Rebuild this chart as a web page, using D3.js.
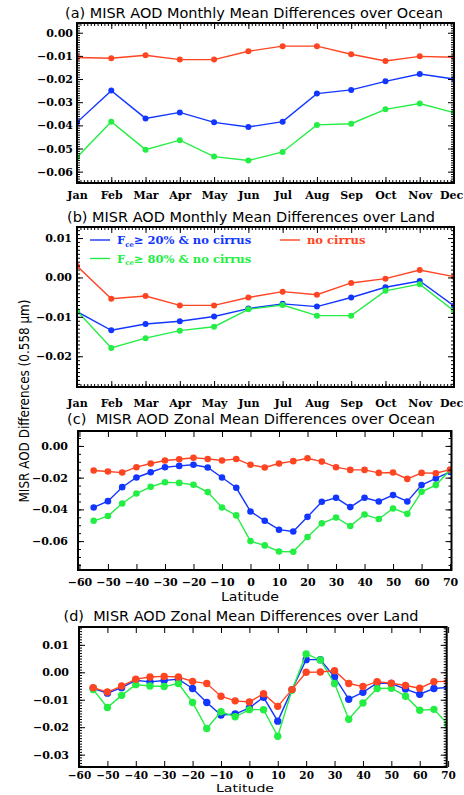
<!DOCTYPE html>
<html><head><meta charset="utf-8">
<script src="https://cdn.jsdelivr.net/npm/d3@7"></script>
<style>body{margin:0;background:#fff}svg{display:block}</style>
</head><body><svg id="c" width="464" height="795"></svg>
<script>
// ---------------- DATA ----------------
const months = ["Jan","Feb","Mar","Apr","May","Jun","Jul","Aug","Sep","Oct","Nov","Dec"];
const latitudes = [-55,-50,-45,-40,-35,-30,-25,-20,-15,-10,-5,0,5,10,15,20,25,30,35,40,45,50,55,60,65,70];
const latTicks = [-60,-50,-40,-30,-20,-10,0,10,20,30,40,50,60,70];

// (a) monthly, ocean
const oceanMonthlyFce20 = [-0.0387,-0.0250,-0.0370,-0.0344,-0.0387,-0.0407,-0.0384,-0.0263,-0.0247,-0.0210,-0.0178,-0.0200];
const oceanMonthlyFce80 = [-0.0538,-0.0384,-0.0505,-0.0464,-0.0535,-0.0552,-0.0515,-0.0398,-0.0393,-0.0331,-0.0306,-0.0345];
const oceanMonthlyNoCirrus = [-0.0107,-0.0110,-0.0097,-0.0116,-0.0116,-0.0080,-0.0058,-0.0058,-0.0093,-0.0122,-0.0102,-0.0106];
const oceanMonthlyTicks = [0,-0.01,-0.02,-0.03,-0.04,-0.05,-0.06];

// (b) monthly, land
const landMonthlyFce20 = [-0.0087,-0.0134,-0.0118,-0.0111,-0.0099,-0.0079,-0.0067,-0.0074,-0.0051,-0.0025,-0.0009,-0.0072];
const landMonthlyFce80 = [-0.0085,-0.0179,-0.0154,-0.0135,-0.0125,-0.0081,-0.0070,-0.0097,-0.0097,-0.0034,-0.0017,-0.0085];
const landMonthlyNoCirrus = [0.0029,-0.0054,-0.0047,-0.0071,-0.0071,-0.0051,-0.0036,-0.0044,-0.0014,-0.0003,0.0019,0.0002];
const landMonthlyTicks = [0.01,0,-0.01,-0.02];

// (c) zonal, ocean
const oceanZonalFce20 = [-0.0388,-0.0348,-0.0260,-0.0199,-0.0166,-0.0134,-0.0126,-0.0119,-0.0136,-0.0199,-0.0264,-0.0413,-0.0472,-0.0528,-0.0539,-0.0447,-0.0352,-0.0327,-0.0386,-0.0327,-0.0350,-0.0310,-0.0350,-0.0247,-0.0205,-0.0164];
const oceanZonalFce80 = [-0.0472,-0.0442,-0.0363,-0.0300,-0.0258,-0.0229,-0.0233,-0.0245,-0.0291,-0.0388,-0.0438,-0.0600,-0.0627,-0.0665,-0.0667,-0.0574,-0.0488,-0.0451,-0.0505,-0.0432,-0.0461,-0.0394,-0.0428,-0.0289,-0.0247,-0.0153];
const oceanZonalNoCirrus = [-0.0155,-0.0161,-0.0168,-0.0134,-0.0111,-0.0092,-0.0084,-0.0075,-0.0082,-0.0092,-0.0082,-0.0119,-0.0136,-0.0111,-0.0096,-0.0078,-0.0099,-0.0134,-0.0151,-0.0151,-0.0170,-0.0168,-0.0208,-0.0170,-0.0172,-0.0149];
const oceanZonalTicks = [0,-0.02,-0.04,-0.06];

// (d) zonal, land
const landZonalFce20 = [-0.0058,-0.0076,-0.0056,-0.0029,-0.0035,-0.0030,-0.0025,-0.0059,-0.0110,-0.0156,-0.0152,-0.0130,-0.0091,-0.0178,-0.0063,0.0046,0.0046,-0.0017,-0.0098,-0.0073,-0.0039,-0.0041,-0.0061,-0.0080,-0.0059,-0.0055];
const landZonalFce80 = [-0.0063,-0.0128,-0.0084,-0.0045,-0.0050,-0.0052,-0.0041,-0.0110,-0.0205,-0.0144,-0.0162,-0.0136,-0.0136,-0.0233,-0.0065,0.0067,0.0045,-0.0041,-0.0171,-0.0112,-0.0059,-0.0058,-0.0087,-0.0138,-0.0135,-0.0190];
const landZonalNoCirrus = [-0.0056,-0.0072,-0.0050,-0.0025,-0.0017,-0.0015,-0.0017,-0.0033,-0.0041,-0.0087,-0.0104,-0.0108,-0.0078,-0.0124,-0.0063,0.0000,0.0001,0.0006,-0.0041,-0.0052,-0.0034,-0.0040,-0.0048,-0.0058,-0.0034,-0.0033];
const landZonalTicks = [0.01,0,-0.01,-0.02,-0.03];

// ---------------- DRAWING ----------------
const BLUE = "#1236ff", GREEN = "#22ee44", RED = "#ff4422";
const svg = d3.select("#c");
const defs = svg.append("defs");
const fmt = d3.format(".2f");

function rangeStep(lo, hi, step){
  const a = Math.ceil(lo/step - 1e-9), b = Math.floor(hi/step + 1e-9);
  return d3.range(a, b+1).map(k => +(k*step).toFixed(6));
}

function styleAxis(sel, fs){
  sel.select(".domain").remove();
  sel.selectAll("line").attr("stroke","#000").attr("stroke-width",1);
  sel.attr("font-family","'DejaVu Serif', serif").attr("font-size",fs || 11).attr("font-weight","bold");
  sel.selectAll("text").attr("fill","#000");
}

function drawPanel(o){
  const g = svg.append("g");
  const x = d3.scaleLinear().domain(o.xDomain).range([o.x0, o.x1]);
  const y = d3.scaleLinear().domain(o.yDomain).range([o.y1, o.y0]);
  const id = "clip-" + o.key;
  defs.append("clipPath").attr("id", id).append("rect")
    .attr("x", o.x0).attr("y", o.y0).attr("width", o.x1 - o.x0).attr("height", o.y1 - o.y0);
  const pg = g.append("g").attr("clip-path", `url(#${id})`);
  const line = d3.line().x(d => x(d[0])).y(d => y(d[1]));
  o.series.forEach(s => {
    const pts = s.values.map((v, i) => [o.xs[i], v]);
    pg.append("path").attr("d", line(pts)).attr("fill","none")
      .attr("stroke", s.color).attr("stroke-width", 1.4);
    pg.selectAll(null).data(pts).enter().append("circle")
      .attr("cx", d => x(d[0])).attr("cy", d => y(d[1])).attr("r", o.r).attr("fill", s.color);
  });

  const yMinor = rangeStep(o.yDomain[0], o.yDomain[1], o.yMinor);
  const xMinor = o.xMinor ? rangeStep(o.xDomain[0], o.xDomain[1], o.xMinor) : [];
  const MJ = 6, MN = 3;
  // left
  g.append("g").attr("transform", `translate(${o.x0},0)`)
    .call(d3.axisLeft(y).tickValues(o.yTicks).tickSize(-MJ).tickPadding(o.ylPad).tickFormat(fmt)).call(styleAxis);
  g.append("g").attr("transform", `translate(${o.x0},0)`)
    .call(d3.axisLeft(y).tickValues(yMinor).tickSize(-MN).tickFormat("")).call(styleAxis);
  // right
  g.append("g").attr("transform", `translate(${o.x1},0)`)
    .call(d3.axisRight(y).tickValues(o.yTicks).tickSize(-MJ).tickFormat("")).call(styleAxis);
  g.append("g").attr("transform", `translate(${o.x1},0)`)
    .call(d3.axisRight(y).tickValues(yMinor).tickSize(-MN).tickFormat("")).call(styleAxis);
  // bottom
  const bx = g.append("g").attr("transform", `translate(0,${o.y1})`)
    .call(d3.axisBottom(x).tickValues(o.xTicks).tickSize(-MJ).tickPadding(o.xlPad).tickFormat(o.xFormat))
    .call(s => styleAxis(s, o.xFs));
  if (o.lastDx) bx.selectAll(".tick text").filter((d, i, n) => i === n.length - 1).attr("dx", o.lastDx);
  if (xMinor.length) g.append("g").attr("transform", `translate(0,${o.y1})`)
    .call(d3.axisBottom(x).tickValues(xMinor).tickSize(-MN).tickFormat("")).call(styleAxis);
  // top
  g.append("g").attr("transform", `translate(0,${o.y0})`)
    .call(d3.axisTop(x).tickValues(o.xTicks).tickSize(-MJ).tickFormat("")).call(styleAxis);
  if (xMinor.length) g.append("g").attr("transform", `translate(0,${o.y0})`)
    .call(d3.axisTop(x).tickValues(xMinor).tickSize(-MN).tickFormat("")).call(styleAxis);

  g.append("rect").attr("x", o.x0).attr("y", o.y0).attr("width", o.x1 - o.x0).attr("height", o.y1 - o.y0)
    .attr("fill","none").attr("stroke","#000").attr("stroke-width",2);

  g.append("text").attr("x", o.tx).attr("y", o.ty).attr("text-anchor","middle")
    .attr("font-family","'DejaVu Sans', sans-serif").attr("font-size",14)
    .attr("textLength", o.tLen).attr("lengthAdjust","spacingAndGlyphs")
    .attr("xml:space","preserve").text(o.title);
  if (o.xLabel) g.append("text").attr("x", o.xlx).attr("y", o.xly).attr("text-anchor","middle")
    .attr("font-family","'DejaVu Sans', sans-serif").attr("font-size",o.xlFs)
    .attr("textLength", 58).attr("lengthAdjust","spacingAndGlyphs").text(o.xLabel);
  return {x, y, g};
}

const monthIdx = d3.range(months.length);
const monthFmt = i => months[i];

drawPanel({key:"a", x0:77, x1:454, y0:23, y1:183, xDomain:[0,11], yDomain:[-0.0649,0.0042],
  xs: monthIdx, xTicks: monthIdx, xMinor: 0.1, xFormat: monthFmt, yTicks: oceanMonthlyTicks, yMinor: 0.001,
  ylPad: 4, xlPad: 8, r: 3, lastDx: -3,
  series:[{values:oceanMonthlyFce20,color:BLUE},{values:oceanMonthlyFce80,color:GREEN},{values:oceanMonthlyNoCirrus,color:RED}],
  title:"(a) MISR AOD Monthly Mean Differences over Ocean", tx:254, ty:18, tLen:378});

drawPanel({key:"b", x0:77, x1:454, y0:227, y1:387, xDomain:[0,11], yDomain:[-0.0278,0.0128],
  xs: monthIdx, xTicks: monthIdx, xMinor: 0.1, xFormat: monthFmt, yTicks: landMonthlyTicks, yMinor: 0.001,
  ylPad: 5, xlPad: 12, r: 3, lastDx: -3,
  series:[{values:landMonthlyFce20,color:BLUE},{values:landMonthlyFce80,color:GREEN},{values:landMonthlyNoCirrus,color:RED}],
  title:"(b) MISR AOD Monthly Mean Differences over Land", tx:251, ty:222, tLen:368});

drawPanel({key:"c", x0:78, x1:451.5, y0:431, y1:570, xDomain:[-60.5,70.5], yDomain:[-0.0782,0.0094],
  xs: latitudes, xTicks: latTicks, xMinor: null, xFormat: d3.format("d"), yTicks: oceanZonalTicks, yMinor: 0.005,
  ylPad: 10, xlPad: 8, r: 3.3,
  series:[{values:oceanZonalFce20,color:BLUE},{values:oceanZonalFce80,color:GREEN},{values:oceanZonalNoCirrus,color:RED}],
  title:"(c)  MISR AOD Zonal Mean Differences over Ocean", tx:251, ty:424, tLen:368,
  xLabel:"Latitude", xlx:250, xly:601, xlFs:13});

drawPanel({key:"d", x0:79, x1:446.7, y0:627, y1:767, xDomain:[-60,69.5], yDomain:[-0.0345,0.0165],
  xs: latitudes, xTicks: latTicks, xMinor: null, xFormat: d3.format("d"), yTicks: landZonalTicks, yMinor: 0.001,
  ylPad: 10, xlPad: 5, xFs: 10.5, r: 3.7,
  series:[{values:landZonalFce20,color:BLUE},{values:landZonalFce80,color:GREEN},{values:landZonalNoCirrus,color:RED}],
  title:"(d)  MISR AOD Zonal Mean Differences over Land", tx:241, ty:621, tLen:355,
  xLabel:"Latitude", xlx:245, xly:792.4, xlFs:11});

// y-axis title
svg.append("text").attr("transform","translate(29,401) rotate(-90)").attr("text-anchor","middle")
  .attr("font-family","'DejaVu Sans', sans-serif").attr("font-size",14)
  .attr("textLength",203).attr("lengthAdjust","spacingAndGlyphs")
  .text("MISR AOD Differences (0.558 \u03bcm)");

// legend in (b)
const legend = [
  {pre:"F", sub:"ce", post:"\u2265 20% & no cirrus", color:BLUE, lx:90, ly:240},
  {pre:"F", sub:"ce", post:"\u2265 80% & no cirrus", color:GREEN, lx:90, ly:258.5},
  {pre:"no cirrus", sub:null, post:"", color:RED, lx:280, ly:240}
];
const lg = svg.append("g").attr("font-family","'DejaVu Serif', serif").attr("font-weight","bold").attr("font-size",11.5);
legend.forEach(l => {
  lg.append("line").attr("x1", l.lx).attr("x2", l.lx + 20).attr("y1", l.ly).attr("y2", l.ly)
    .attr("stroke", l.color).attr("stroke-width", 1.4);
  const t = lg.append("text").attr("x", l.lx + 27).attr("y", l.ly + 4).attr("fill", l.color);
  t.append("tspan").text(l.pre);
  if (l.sub) {
    t.append("tspan").attr("font-size",7).attr("dy",2.5).text(l.sub);
    t.append("tspan").attr("dy",-2.5).text(l.post);
  }
});
</script>
</body></html>
